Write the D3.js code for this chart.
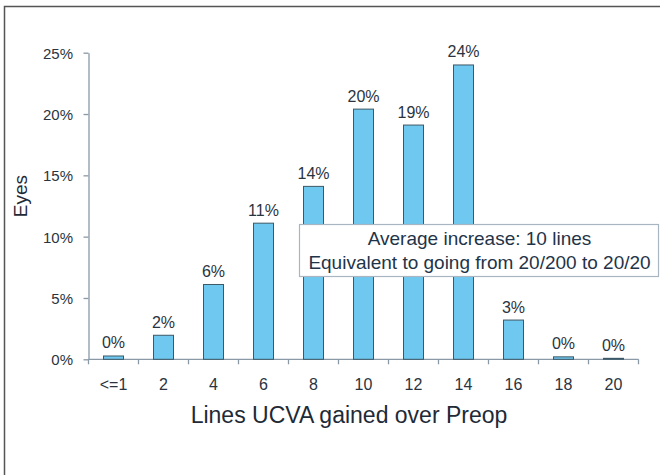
<!DOCTYPE html>
<html><head><meta charset="utf-8">
<script src="https://cdn.jsdelivr.net/npm/d3@7"></script>
<style>body{margin:0;background:#fff;}svg{display:block;font-family:Arial,"Liberation Sans",sans-serif;}</style>
</head><body>
<svg id="c" width="660" height="475"></svg>
<script>
const categories = ["<=1","2","4","6","8","10","12","14","16","18","20"];
const values = [0.27, 1.96, 6.1, 11.1, 14.1, 20.4, 19.1, 24.0, 3.2, 0.2, 0.08];
const valueLabels = ["0%","2%","6%","11%","14%","20%","19%","24%","3%","0%","0%"];
const yTicks = [0,5,10,15,20,25];
const noteLines = ["Average increase: 10 lines","Equivalent to going from 20/200 to 20/20"];

const svg = d3.select("#c");
const m = {l:88.5, r:638.5, t:52.7, b:359.3};
const x = d3.scaleBand().domain(categories).range([m.l, m.r]).paddingInner(0.6).paddingOuter(0.3);
const y = d3.scaleLinear().domain([0,25]).range([m.b, m.t]);

// frame
svg.append("path").attr("d","M4.5,475 L4.5,6.5 L660,6.5").attr("fill","none").attr("stroke","#555").attr("stroke-width",1.5);

const axisColor = "#8a99a6";
const textColor = "#2a3440";
// y axis
const ya = svg.append("g").attr("transform",`translate(${m.l},0)`)
  .call(d3.axisLeft(y).tickValues(yTicks).tickFormat(d=>d+"%").tickSize(5).tickSizeOuter(0));
ya.select(".domain").attr("stroke",axisColor).attr("stroke-width",1.3);
ya.selectAll(".tick line").attr("stroke",axisColor).attr("stroke-width",1.3);
ya.selectAll(".tick text").attr("fill",textColor).attr("font-size",15).attr("x",-15.5).attr("dy","0.36em");

// x axis
const xa = svg.append("g").attr("transform",`translate(0,${m.b})`);
xa.append("line").attr("x1",m.l).attr("x2",m.r).attr("y1",0).attr("y2",0).attr("stroke",axisColor).attr("stroke-width",1.3);
const bounds = categories.map(c=>x(c)-x.step()*x.paddingInner()/2).concat([m.r]);
bounds[0] = m.l;
xa.selectAll("line.t").data(bounds).join("line").attr("class","t")
  .attr("x1",d=>d).attr("x2",d=>d).attr("y1",0).attr("y2",5).attr("stroke",axisColor).attr("stroke-width",1.3);
xa.selectAll("text").data(categories).join("text")
  .attr("x",d=>x(d)+x.bandwidth()/2).attr("y",31).attr("text-anchor","middle")
  .attr("fill",textColor).attr("font-size",16).text(d=>d);

// bars
svg.selectAll("rect.bar").data(values).join("rect").attr("class","bar")
  .attr("x",(d,i)=>x(categories[i])).attr("width",x.bandwidth())
  .attr("y",d=>y(d)).attr("height",d=>y(0)-y(d))
  .attr("fill","#6ec8f0").attr("stroke","#3d5866").attr("stroke-width",1);

svg.selectAll("text.vl").data(values).join("text").attr("class","vl")
  .attr("x",(d,i)=>x(categories[i])+x.bandwidth()/2).attr("y",d=>y(d)-7.5)
  .attr("text-anchor","middle").attr("fill",textColor).attr("font-size",16)
  .text((d,i)=>valueLabels[i]);

// axis titles
svg.append("text").attr("x",349).attr("y",423).attr("text-anchor","middle")
  .attr("font-size",23).attr("fill","#1e2a36").text("Lines UCVA gained over Preop");
svg.append("text").attr("transform","translate(27,196) rotate(-90)").attr("text-anchor","middle")
  .attr("font-size",19).attr("fill","#1e2a36").text("Eyes");

// annotation box
const g = svg.append("g");
g.append("rect").attr("x",299.5).attr("y",224.5).attr("width",359).attr("height",52)
  .attr("fill","#fff").attr("stroke","#a9b6c2").attr("stroke-width",1.2);
g.selectAll("text").data(noteLines).join("text")
  .attr("x",479.5).attr("y",(d,i)=>245+i*24.3).attr("text-anchor","middle")
  .attr("font-size",19).attr("fill","#1f3448").text(d=>d);
</script>
</body></html>
